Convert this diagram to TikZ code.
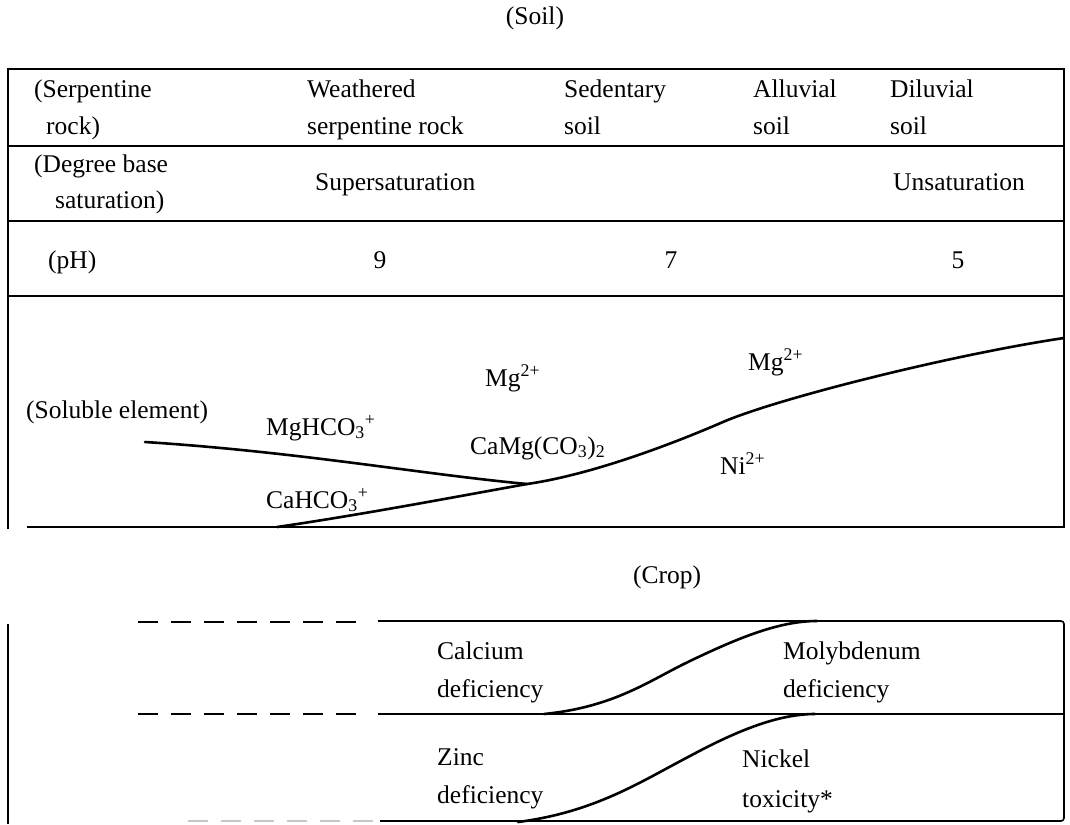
\documentclass[tikz,border=0pt]{standalone}
\usepackage{fontspec}
\setmainfont{Liberation Serif}
\begin{document}
\begin{tikzpicture}[x=1pt,y=-1pt,
  txt/.style={font=\fontsize{25.5}{30}\selectfont, inner sep=0pt, anchor=base west},
  ctxt/.style={font=\fontsize{25.5}{30}\selectfont, inner sep=0pt, anchor=base},
  frame/.style={line width=1.6pt},
  curve/.style={line width=2.6pt, line cap=round, line join=round},
  dsh/.style={line width=2.4pt, dash pattern=on 20pt off 13pt},
  faint/.style={line width=1.6pt, black!22, dash pattern=on 20pt off 13pt}]
\useasboundingbox (0,0) rectangle (1070,824);

% ---------- Soil ----------
\node[ctxt] (soil) at (535,25) {(Soil)};

% table frame
\draw[frame] (8,529) -- (8,69) -- (1064,69) -- (1064,527) -- (27,527);
\draw[frame] (8,146) -- (1064,146);
\draw[frame] (8,221) -- (1064,221);
\draw[frame] (8,296) -- (1064,296);

% row 1
\node[txt] (serp1) at (34,98) {(Serpentine};
\node[txt] (serp2) at (46,135) {rock)};
\node[txt] (weath1) at (307,98) {Weathered};
\node[txt] (weath2) at (307,135) {serpentine rock};
\node[txt] (sed1) at (564,98) {Sedentary};
\node[txt] (sed2) at (564,135) {soil};
\node[txt] (all1) at (753,98) {Alluvial};
\node[txt] (all2) at (753,135) {soil};
\node[txt] (dil1) at (890,98) {Diluvial};
\node[txt] (dil2) at (890,135) {soil};

% row 2
\node[txt] (deg1) at (34,172) {(Degree base};
\node[txt] (deg2) at (55,208) {saturation)};
\node[txt] (super) at (315,190) {Supersaturation};
\node[txt] (unsat) at (893,190) {Unsaturation};

% row 3
\node[txt] (ph) at (48,268) {(pH)};
\node[ctxt] (ph9) at (380,268) {9};
\node[ctxt] (ph7) at (671,268) {7};
\node[ctxt] (ph5) at (958,268) {5};

% soluble elements
\node[txt] (solub) at (26,418) {(Soluble element)};
\node[txt] (mgA) at (485,386) {Mg\textsuperscript{2+}};
\node[txt] (mghco) at (266,435) {MgHCO\textsubscript{3}\textsuperscript{+}};
\node[txt] (camg) at (470,454) {CaMg(CO\textsubscript{3})\textsubscript{2}};
\node[txt] (cahco) at (266,508) {CaHCO\textsubscript{3}\textsuperscript{+}};
\node[txt] (mgB) at (748,370) {Mg\textsuperscript{2+}};
\node[txt] (ni) at (720,474) {Ni\textsuperscript{2+}};

\coordinate (jn) at (527,484);
\draw[curve] (145,442) .. controls (300,452) and (420,474) .. (jn);
\draw[curve] (277,527) .. controls (360,515) and (460,496) .. (jn);
\draw[curve] (jn) .. controls (590,475) and (670,445) .. (723,422)
                  .. controls (776,399) and (950,355) .. (1064,338);

% ---------- Crop ----------
\node[ctxt] (crop) at (667,583) {(Crop)};

\draw[frame] (8,624) -- (8,824);
\draw[dsh] (138,622) -- (360,622);
\draw[dsh] (138,714) -- (360,714);
\draw[faint] (188,821) -- (378,821);
\draw[frame, rounded corners=3pt] (378,621) -- (1064,621) -- (1064,821) -- (380,821);
\draw[frame] (378,714) -- (1064,714);

\draw[curve] (544,714) .. controls (615,707) and (650,680) .. (690,661)
                       .. controls (740,637) and (780,621) .. (817,621);
\draw[curve] (518,822) .. controls (595,812) and (640,782) .. (690,756)
                       .. controls (740,729) and (780,714) .. (815,714);

\node[txt] (ca1) at (437,659) {Calcium};
\node[txt] (ca2) at (437,697) {deficiency};
\node[txt] (mo1) at (783,659) {Molybdenum};
\node[txt] (mo2) at (783,697) {deficiency};
\node[txt] (zn1) at (437,765) {Zinc};
\node[txt] (zn2) at (437,803) {deficiency};
\node[txt] (nk1) at (742,767) {Nickel};
\node[txt] (nk2) at (742,807) {toxicity*};
\end{tikzpicture}
\end{document}
